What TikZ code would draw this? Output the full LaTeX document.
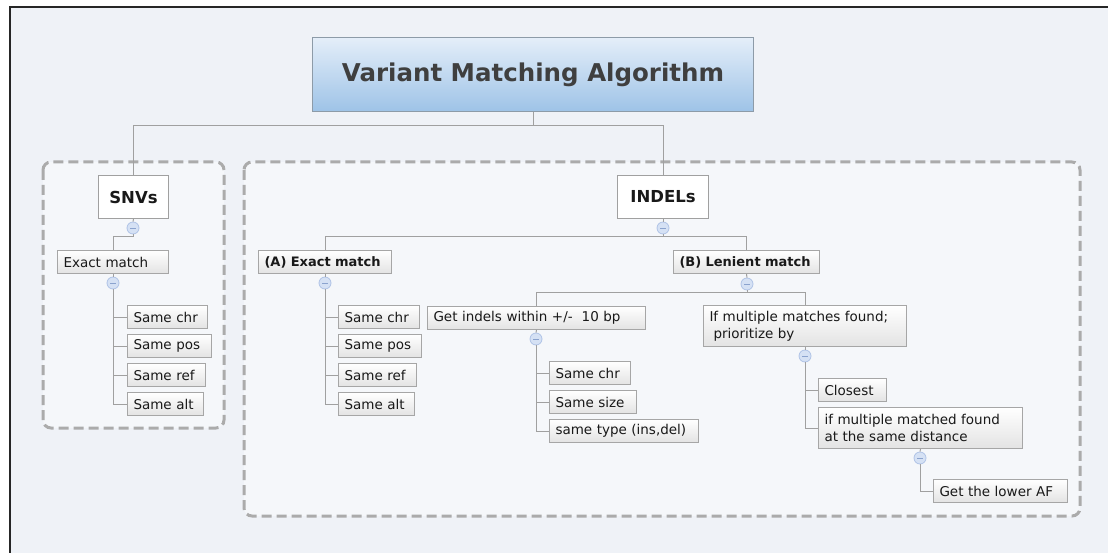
\documentclass[tikz,border=0pt]{standalone}
\usepackage{fontspec}
\setmainfont{DejaVu Sans}
\definecolor{bgc}{HTML}{EFF2F7}
\definecolor{inbg}{HTML}{F5F7FA}
\definecolor{dashc}{HTML}{ABABAB}
\definecolor{linec}{HTML}{A0A0A0}
\definecolor{boxb}{HTML}{A6A6A6}
\definecolor{boxbot}{HTML}{E3E3E3}
\definecolor{titletop}{HTML}{E4EEF9}
\definecolor{titlebot}{HTML}{9EC3E7}
\definecolor{titleb}{HTML}{8D9BA8}
\definecolor{titletext}{HTML}{3F3F3F}
\definecolor{circf}{HTML}{D5E1F4}
\definecolor{circb}{HTML}{AFC3E6}
\definecolor{circm}{HTML}{8BA3CE}
\tikzset{
  leaf/.style={draw=boxb, line width=1pt, top color=white, bottom color=boxbot,
    anchor=north west, inner xsep=6pt, inner ysep=0pt, minimum height=23pt,
    align=left, text=black!90, font=\fontsize{13.5}{17}\selectfont},
  bleaf/.style={leaf, font=\fontsize{13}{17}\selectfont\bfseries},
  topbox/.style={draw=linec, line width=1pt, fill=white, anchor=north west,
    inner sep=0pt, minimum height=43pt, text=black!90,
    font=\fontsize{16.5}{19}\selectfont\bfseries},
  toggle/.style={circle, minimum size=12pt, inner sep=0pt, fill=circf, draw=circb, line width=0.8pt,
    path picture={\draw[circm, line width=0.9pt] ([xshift=-3pt]path picture bounding box.center) -- ([xshift=3pt]path picture bounding box.center);}},
  conn/.style={draw=linec, line width=1pt},
  dashbox/.style={draw=dashc, line width=3pt, dash pattern=on 10pt off 5pt, rounded corners=8pt, fill=inbg}
}
\begin{document}
\begin{tikzpicture}[x=1pt, y=-1pt]
\useasboundingbox (0,0) rectangle (1108,553);
% background and frame
\fill[white] (0,0) rectangle (1108,553);
\fill[bgc] (10,7) rectangle (1108,553);
\draw[black!85, line width=2.2pt] (10,553) -- (10,7) -- (1108,7);
% dashed groups
\draw[dashbox] (43,162) rectangle (224,428);
\draw[dashbox] (244,162) rectangle (1080,516);
% title
\node[draw=titleb, line width=1pt, top color=titletop, bottom color=titlebot, anchor=north west,
  minimum width=441pt, minimum height=74pt, inner sep=0pt, text=titletext,
  font=\fontsize{24.5}{28}\selectfont\bfseries] (title) at (312,37) {Variant Matching Algorithm};
% top level
\node[topbox, minimum width=70pt] (snv) at (98,175) {SNVs};
\node[topbox, minimum width=91pt] (indel) at (617,175) {INDELs};
% SNV branch
\node[toggle] (csnv) at (133,228) {};
\node[leaf, text width=99pt] (ex1) at (57,250) {Exact match};
\node[toggle] (cex1) at (113,283) {};
\node[leaf, text width=68pt] (schr) at (127,305) {Same chr};
\node[leaf, text width=72pt] (spos) at (127,334) {Same pos};
\node[leaf, text width=66pt] (sref) at (127,363) {Same ref};
\node[leaf, text width=64pt] (salt) at (127,392) {Same alt};
% INDEL branch
\node[toggle] (cind) at (663,228) {};
\node[bleaf, text width=121pt] (exA) at (258,250) {(A) Exact match};
\node[toggle] (cA) at (325,283) {};
\node[leaf, text width=69pt] (achr) at (338,305) {Same chr};
\node[leaf, text width=71pt] (apos) at (338,334) {Same pos};
\node[leaf, text width=66pt] (aref) at (338,363) {Same ref};
\node[leaf, text width=64pt] (aalt) at (338,392) {Same alt};
\node[bleaf, text width=134pt] (lenB) at (673,250) {(B) Lenient match};
\node[toggle] (cB) at (747,284) {};
\node[leaf, text width=206pt] (get) at (427,306) {Get indels within +/-~~10 bp};
\node[toggle] (cget) at (536,339) {};
\node[leaf, text width=69pt] (gchr) at (549,361) {Same chr};
\node[leaf, text width=75pt] (gsize) at (549,390) {Same size};
\node[leaf, text width=137pt] (gtype) at (549,419) {same type (ins,del)};
\node[leaf, text width=191pt, minimum height=41pt] (mult) at (703,305) {If multiple matches found;\\\hspace*{0.3em}prioritize by};
\node[toggle] (cmult) at (805,356) {};
\node[leaf, text width=56pt] (close) at (818,378) {Closest};
\node[leaf, text width=192pt, minimum height=41pt] (dist) at (818,407) {if multiple matched found\\at the same distance};
\node[toggle] (cdist) at (920,458) {};
\node[leaf, text width=122pt] (lower) at (933,479) {Get the lower AF};
% junction coordinates
\coordinate (jtop) at (533,126);
\coordinate (jsnv) at (133,237);
\coordinate (jind) at (663,237);
\coordinate (jB) at (747,293);
% connectors
\draw[conn] (title.south) -- (jtop);
\draw[conn] (snv.north) |- (jtop);
\draw[conn] (indel.north) |- (jtop);
\draw[conn] (snv.south) -- (csnv.north);
\draw[conn] (csnv.south) -- (jsnv) -| (ex1.north);
\draw[conn] (ex1.south) -- (cex1.north);
\foreach \n in {schr,spos,sref,salt} \draw[conn] (cex1.south) |- (\n.west);
\draw[conn] (indel.south) -- (cind.north);
\draw[conn] (cind.south) -- (jind) -| (exA.north);
\draw[conn] (jind) -| (lenB.north);
\draw[conn] (exA.south) -- (cA.north);
\foreach \n in {achr,apos,aref,aalt} \draw[conn] (cA.south) |- (\n.west);
\draw[conn] (lenB.south) -- (cB.north);
\draw[conn] (cB.south) -- (jB) -| (get.north);
\draw[conn] (jB) -| (mult.north);
\draw[conn] (get.south) -- (cget.north);
\foreach \n in {gchr,gsize,gtype} \draw[conn] (cget.south) |- (\n.west);
\draw[conn] (mult.south) -- (cmult.north);
\foreach \n in {close,dist} \draw[conn] (cmult.south) |- (\n.west);
\draw[conn] (dist.south) -- (cdist.north);
\draw[conn] (cdist.south) |- (lower.west);
\end{tikzpicture}
\end{document}
